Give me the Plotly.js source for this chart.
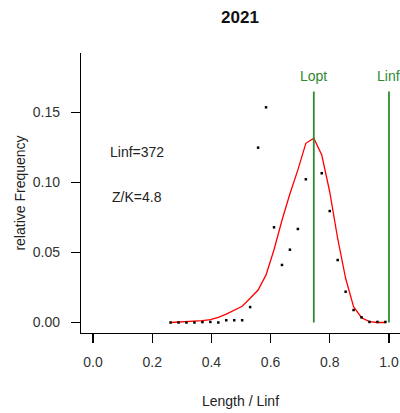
<!DOCTYPE html>
<html>
<head>
<meta charset="utf-8">
<script src="https://cdn.plot.ly/plotly-3.0.1.min.js"></script>
<style>html,body{margin:0;padding:0;background:#fff;}#chart{width:400px;height:413px;}</style>
</head>
<body>
<div id="chart"></div>
<script>
// Data
const Linf = 372;
const ZK = 4.8;
const lengthMid = [97.5,107.5,117.5,127.5,137.5,147.5,157.5,167.5,177.5,187.5,197.5,207.5,217.5,227.5,237.5,247.5,257.5,267.5,277.5,287.5,297.5,307.5,317.5,327.5,337.5,347.5,357.5,367.5];
const relFreq = [0.0,0.0,0.0,0.0,0.0003,0.0004,0.0,0.0016,0.0016,0.0016,0.011,0.1249,0.1537,0.068,0.0411,0.052,0.0668,0.1023,null,0.1066,0.0796,0.0446,0.022,0.0089,0.0037,0.0004,0.0004,0.0004];
const fitted = [0.0,0.0002,0.0004,0.0008,0.0013,0.002,0.0037,0.006,0.0087,0.0116,0.0173,0.0232,0.034,0.052,0.073,0.092,0.109,0.128,0.1316,0.1196,0.0934,0.060,0.0316,0.0113,0.0034,0.0006,0.0,0.0];
const LoptRel = 0.746;
const LinfRel = 1.0;
const refLineTop = 0.165;
const xTicks = [0.0,0.2,0.4,0.6,0.8,1.0];
const xTickText = ['0.0','0.2','0.4','0.6','0.8','1.0'];
const yTicks = [0.00,0.05,0.10,0.15];
const yTickText = ['0.00','0.05','0.10','0.15'];

const relLen = lengthMid.map(l => l / Linf);
const font = 'Liberation Sans, Arial, sans-serif';
const green = '#2f8a2f';
const fs = 14;

const traces = [
  {x: relLen, y: fitted, mode: 'lines', line: {color: '#ff0000', width: 1.3}, hoverinfo: 'skip'},
  {x: relLen, y: relFreq, mode: 'markers', marker: {color: '#000', size: 2.5, symbol: 'square'}, hoverinfo: 'skip'},
  {x: [LoptRel, LoptRel], y: [0, refLineTop], mode: 'lines', line: {color: green, width: 1.8}, hoverinfo: 'skip'},
  {x: [LinfRel, LinfRel], y: [0, refLineTop], mode: 'lines', line: {color: green, width: 1.8}, hoverinfo: 'skip'}
];

const layout = {
  width: 400, height: 413,
  margin: {l: 81, r: 0, t: 53, b: 80},
  paper_bgcolor: '#fff', plot_bgcolor: '#fff',
  showlegend: false,
  font: {family: font, size: fs, color: '#222'},
  title: {text: '<b>2021</b>', x: 0.6, xanchor: 'center', y: 0.958, yanchor: 'middle', font: {family: font, size: 17, color: '#111'}},
  xaxis: {
    range: [-0.0405, 1.0372], showgrid: false, zeroline: false,
    showline: true, linecolor: '#000', linewidth: 1.2, mirror: false,
    ticks: 'outside', ticklen: 9, tickwidth: 1.2, tickcolor: '#000',
    tickvals: xTicks, ticktext: xTickText, ticklabelstandoff: 7,
    tickfont: {family: font, size: fs, color: '#333'},
    title: {text: 'Length / Linf', font: {family: font, size: fs, color: '#222'}, standoff: 27}
  },
  yaxis: {
    range: [-0.0075, 0.1925], showgrid: false, zeroline: false,
    showline: true, linecolor: '#000', linewidth: 1.2, mirror: false,
    ticks: 'outside', ticklen: 9, tickwidth: 1.2, tickcolor: '#000',
    tickvals: yTicks, ticktext: yTickText, ticklabelstandoff: 8,
    tickfont: {family: font, size: fs, color: '#333'},
    title: {text: 'relative Frequency', font: {family: font, size: fs, color: '#222'}, standoff: 3}
  },
  annotations: [
    {x: 0.148, y: 0.122, xref: 'x', yref: 'y', text: 'Linf=' + Linf, showarrow: false, font: {family: font, size: fs, color: '#222'}},
    {x: 0.148, y: 0.0899, xref: 'x', yref: 'y', text: 'Z/K=' + ZK, showarrow: false, font: {family: font, size: fs, color: '#222'}},
    {x: LoptRel, y: 0.176, xref: 'x', yref: 'y', text: 'Lopt', showarrow: false, font: {family: font, size: fs, color: green}},
    {x: LinfRel, y: 0.176, xref: 'x', yref: 'y', text: 'Linf', showarrow: false, font: {family: font, size: fs, color: green}}
  ]
};

Plotly.newPlot('chart', traces, layout, {displayModeBar: false, staticPlot: true});
</script>
</body>
</html>
